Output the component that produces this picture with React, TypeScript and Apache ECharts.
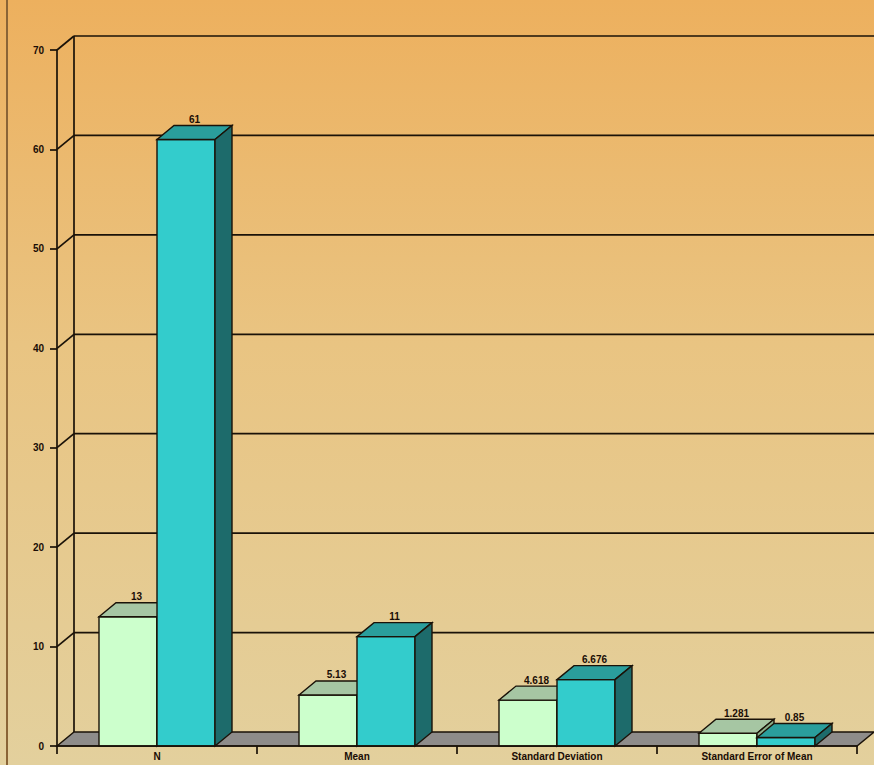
import React, { useEffect, useRef } from "react";
import * as echarts from "echarts";

const categories = ["N", "Mean", "Standard Deviation", "Standard Error of Mean"];
const seriesA = [13, 5.13, 4.618, 1.281];
const seriesB = [61, 11, 6.676, 0.85];
const seriesALabels = ["13", "5.13", "4.618", "1.281"];
const seriesBLabels = ["61", "11", "6.676", "0.85"];
const yTicks = [0, 10, 20, 30, 40, 50, 60, 70];

const DX = 17;
const DY = -14;
const BAR_W = 58;
const STROKE = "#1a1208";

function barRenderer(offsetIndex: number, front: string, top: string, side: string, labels: string[]) {
  return (params: any, api: any) => {
    const idx = api.value(0);
    const val = api.value(1);
    const p = api.coord([idx, val]);
    const base = api.coord([idx, 0]);
    const x0 = p[0] - BAR_W + offsetIndex * BAR_W;
    const yTop = p[1];
    const y0 = base[1];
    const w = BAR_W;
    const lw = 1.4;
    return {
      type: "group",
      children: [
        {
          type: "rect",
          shape: { x: x0, y: yTop, width: w, height: y0 - yTop },
          style: { fill: front, stroke: STROKE, lineWidth: lw },
        },
        {
          type: "polygon",
          shape: {
            points: [
              [x0, yTop],
              [x0 + DX, yTop + DY],
              [x0 + w + DX, yTop + DY],
              [x0 + w, yTop],
            ],
          },
          style: { fill: top, stroke: STROKE, lineWidth: lw },
        },
        {
          type: "polygon",
          shape: {
            points: [
              [x0 + w, yTop],
              [x0 + w + DX, yTop + DY],
              [x0 + w + DX, y0 + DY],
              [x0 + w, y0],
            ],
          },
          style: { fill: side, stroke: STROKE, lineWidth: lw },
        },
        {
          type: "text",
          x: x0 + w / 2 + DX / 2,
          y: yTop + DY - 1,
          style: {
            text: labels[params.dataIndex],
            fill: "#1a0d05",
            font: "bold 10px Arial, 'Liberation Sans', sans-serif",
            align: "center",
            verticalAlign: "bottom",
          },
        },
      ],
    };
  };
}

function gridRenderer(params: any, api: any) {
  const v = api.value(1);
  const cs = params.coordSys;
  const left = cs.x;
  const right = cs.x + cs.width;
  const y = api.coord([0, v])[1];
  const lineStyle = { stroke: STROKE, lineWidth: 1.7 };
  if (v === 0) {
    const yMax = api.coord([0, 70])[1];
    return {
      type: "group",
      children: [
        {
          type: "polygon",
          shape: {
            points: [
              [left, y],
              [left + DX, y + DY],
              [right + DX, y + DY],
              [right, y],
            ],
          },
          style: { fill: "#8e8c8a", stroke: STROKE, lineWidth: 1.4 },
        },
        {
          type: "line",
          shape: { x1: left + DX, y1: y + DY, x2: left + DX, y2: yMax + DY },
          style: lineStyle,
        },
      ],
    };
  }
  return {
    type: "group",
    children: [
      {
        type: "line",
        shape: { x1: left + DX, y1: y + DY, x2: right + DX, y2: y + DY },
        style: lineStyle,
      },
      {
        type: "line",
        shape: { x1: left, y1: y, x2: left + DX, y2: y + DY },
        style: lineStyle,
      },
    ],
  };
}

export default function App() {
  const ref = useRef<HTMLDivElement>(null);
  useEffect(() => {
    if (!ref.current) return;
    const chart = echarts.init(ref.current, null, { renderer: "svg" });
    chart.setOption({
      animation: false,
      backgroundColor: new echarts.graphic.LinearGradient(0, 0, 0, 1, [
        { offset: 0, color: "#EDB05E" },
        { offset: 0.45, color: "#E9C482" },
        { offset: 1, color: "#E3D09D" },
      ]),
      graphic: [
        {
          type: "line",
          shape: { x1: 7, y1: 0, x2: 7, y2: 765 },
          style: { stroke: "#8a6436", lineWidth: 2 },
          silent: true,
        },
      ],
      grid: {
        left: 57,
        right: 17,
        top: 50,
        bottom: 19,
        containLabel: false,
        outerBoundsMode: "none",
      },
      xAxis: {
        type: "category",
        data: categories,
        boundaryGap: true,
        axisLine: { show: true, lineStyle: { color: STROKE, width: 1.7 } },
        axisTick: { show: true, alignWithLabel: false, length: 8, lineStyle: { color: STROKE, width: 1.7 } },
        axisLabel: {
          margin: 5,
          color: "#1a0d05",
          fontWeight: "bold",
          fontSize: 10,
          lineHeight: 11,
          fontFamily: "Arial, 'Liberation Sans', sans-serif",
          interval: 0,
        },
        splitLine: { show: false },
        z: 10,
      },
      yAxis: {
        type: "value",
        min: 0,
        max: 70,
        interval: 10,
        axisLine: { show: true, lineStyle: { color: STROKE, width: 1.7 } },
        axisTick: { show: true, length: 7, lineStyle: { color: STROKE, width: 1.7 } },
        axisLabel: {
          margin: 13,
          color: "#1a0d05",
          fontWeight: "bold",
          fontSize: 10,
          fontFamily: "Arial, 'Liberation Sans', sans-serif",
        },
        splitLine: { show: false },
      },
      series: [
        {
          type: "custom",
          name: "grid",
          renderItem: gridRenderer,
          data: yTicks.map((v) => [0, v]),
          encode: { x: 0, y: 1 },
          z: 1,
          silent: true,
        },
        {
          type: "custom",
          name: "A",
          renderItem: barRenderer(0, "#CCFFCC", "#A6C6A3", "#8DB08A", seriesALabels),
          data: seriesA.map((v, i) => [i, v]),
          encode: { x: 0, y: 1 },
          z: 3,
        },
        {
          type: "custom",
          name: "B",
          renderItem: barRenderer(1, "#33CCCC", "#2A9E9C", "#1D6B6B", seriesBLabels),
          data: seriesB.map((v, i) => [i, v]),
          encode: { x: 0, y: 1 },
          z: 4,
        },
      ],
    });
    return () => chart.dispose();
  }, []);
  return (
    <div
      ref={ref}
      style={{ position: "fixed", left: 0, top: 0, width: 874, height: 765 }}
    />
  );
}
